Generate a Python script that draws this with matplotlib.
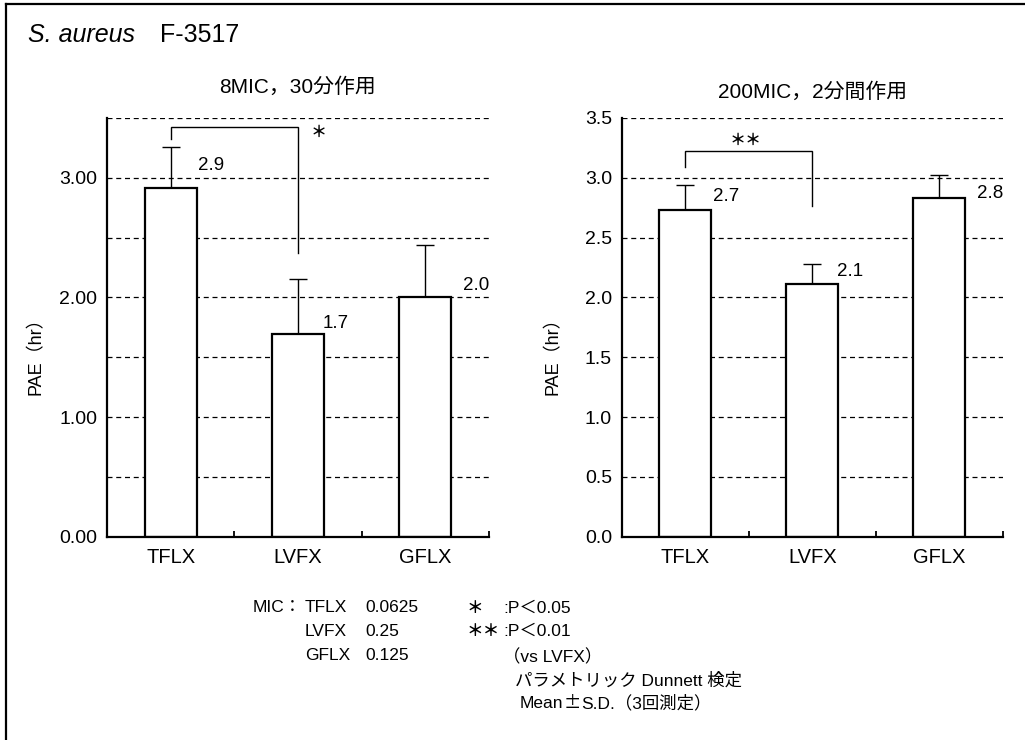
import matplotlib
matplotlib.use('Agg')
import matplotlib.pyplot as plt
from matplotlib.lines import Line2D

FONT = ['Liberation Sans', 'Noto Sans CJK JP', 'DejaVu Sans']
CJK = ['Noto Sans CJK JP', 'DejaVu Sans']
plt.rcParams['font.family'] = FONT

# ---------------- data ----------------
drugs = ['TFLX', 'LVFX', 'GFLX']

pae_8mic = [2.91, 1.69, 2.00]
sd_8mic = [0.35, 0.46, 0.44]
labels_8mic = ['2.9', '1.7', '2.0']

pae_200mic = [2.73, 2.11, 2.83]
sd_200mic = [0.21, 0.17, 0.19]
labels_200mic = ['2.7', '2.1', '2.8']

yticks_left = [0.0, 1.0, 2.0, 3.0]
ytick_labels_left = ['0.00', '1.00', '2.00', '3.00']
yticks_right = [0.0, 0.5, 1.0, 1.5, 2.0, 2.5, 3.0, 3.5]
ytick_labels_right = ['0.0', '0.5', '1.0', '1.5', '2.0', '2.5', '3.0', '3.5']
grid_levels = [0.5, 1.0, 1.5, 2.0, 2.5, 3.0, 3.5]

title_main_italic = 'S. aureus'
title_main_strain = 'F-3517'
title_left = '8MIC，30分作用'
title_right = '200MIC，2分間作用'
ylabel = 'PAE（hr）'

sig_left = '＊'
sig_right = '＊＊'

mic_drugs = ['TFLX', 'LVFX', 'GFLX']
mic_values = ['0.0625', '0.25', '0.125']

# ---------------- layout / style (not data) ----------------
W, H = 1025, 740
BAR_W = 0.41
lab_off_left = [(0.215, 0.19), (0.194, 0.09), (0.294, 0.10)]
lab_off_right = [(0.221, 0.11), (0.193, 0.11), (0.295, 0.04)]

fig = plt.figure(figsize=(W / 100, H / 100), dpi=100)


def fx(px):
    return px / W


def fy(py):
    return 1 - py / H


def make_panel(rect, vals, sds, labs, offs, yt, ytl, title, title_y, bracket, star, star_xy):
    ax = fig.add_axes(rect)
    x = list(range(len(drugs)))
    for g in grid_levels:
        ax.axhline(g, color='black', lw=0.9, ls=(0, (4, 3)), zorder=0)
    ax.errorbar(x, vals, yerr=[[0] * len(sds), sds], fmt='none', ecolor='black',
                elinewidth=1.0, capsize=6.4, capthick=1.0, zorder=1)
    ax.bar(x, vals, width=BAR_W, color='white', edgecolor='black', linewidth=1.6, zorder=2)
    for xi, v, lab, (dx, dy) in zip(x, vals, labs, offs):
        ax.text(xi + dx, v + dy, lab, ha='left', va='center', fontsize=13.5)
    bx, by = bracket
    ax.plot(bx, by, color='black', lw=1.0, zorder=3, solid_joinstyle='miter')
    ax.text(star_xy[0], star_xy[1], star, ha='center', va='center', fontsize=11.5,
            family=CJK, fontweight='bold')

    ax.set_xlim(-0.5, 2.5)
    ax.set_ylim(0, 3.5)
    ax.set_xticks(x)
    ax.set_xticklabels(drugs, fontsize=14.5)
    ax.set_xticks([0.5, 1.5, 2.5], minor=True)
    ax.tick_params(axis='x', which='major', length=0, pad=8)
    ax.tick_params(axis='x', which='minor', direction='in', length=4.5, width=1.3)
    ax.set_yticks(yt)
    ax.set_yticklabels(ytl, fontsize=14)
    ax.tick_params(axis='y', length=0, pad=7)
    for s in ['top', 'right']:
        ax.spines[s].set_visible(False)
    for s in ['left', 'bottom']:
        ax.spines[s].set_linewidth(1.6)
    ax.patch.set_alpha(0)
    fig.text(fx((rect[0] + rect[2] / 2) * W), fy(title_y), title, ha='center', va='center', fontsize=15)
    return ax


ax_bottom = 1 - 536.7 / H
ax_h = (536.7 - 117.9) / H

make_panel([fx(107), ax_bottom, fx(489 - 107), ax_h], pae_8mic, sd_8mic, labels_8mic,
           lab_off_left, yticks_left, ytick_labels_left, title_left, 87.5,
           ([0, 0, 1, 1], [3.32, 3.425, 3.425, 2.37]), sig_left, (1.16, 3.38))
make_panel([fx(621.7), ax_bottom, fx(1002.7 - 621.7), ax_h], pae_200mic, sd_200mic, labels_200mic,
           lab_off_right, yticks_right, ytick_labels_right, title_right, 91.7,
           ([0, 0, 1, 1], [3.09, 3.22, 3.22, 2.76]), sig_right, (0.479, 3.32))

# y labels
fig.text(fx(36), fy(352), ylabel, rotation=90, ha='center', va='center', fontsize=13)
fig.text(fx(553.5), fy(352), ylabel, rotation=90, ha='center', va='center', fontsize=13)

# main title
fig.text(fx(28), fy(34.7), title_main_italic, style='italic', ha='left', va='center', fontsize=18)
fig.text(fx(160), fy(34.7), title_main_strain, ha='left', va='center', fontsize=18)

# frame (left and top edges)
fig.add_artist(Line2D([fx(6), fx(6)], [0, fy(4)], color='black', lw=1.6))
fig.add_artist(Line2D([fx(6), 1], [fy(4), fy(4)], color='black', lw=1.6))

# footnotes
rows = [608, 631, 655]
FS = 12.5
fig.text(fx(253), fy(rows[0]), 'MIC：', ha='left', va='center', fontsize=FS)
for r, d, v in zip(rows, mic_drugs, mic_values):
    fig.text(fx(305), fy(r), d, ha='left', va='center', fontsize=FS)
    fig.text(fx(365), fy(r), v, ha='left', va='center', fontsize=FS)

fig.text(fx(475), fy(rows[0]), '＊', ha='center', va='center', fontsize=12, family=CJK, fontweight='bold')
fig.text(fx(483.5), fy(rows[1]), '＊＊', ha='center', va='center', fontsize=12, family=CJK, fontweight='bold')
fig.text(fx(503), fy(rows[0]), ':P＜0.05', ha='left', va='center', fontsize=FS)
fig.text(fx(503), fy(rows[1]), ':P＜0.01', ha='left', va='center', fontsize=FS)
fig.text(fx(503), fy(657), '（vs LVFX）', ha='left', va='center', fontsize=FS)
fig.text(fx(515), fy(680), 'パラメトリック Dunnett 検定', ha='left', va='center', fontsize=FS)

# "Mean±S.D.（3回測定）" with a wide ± as in the original
fig.canvas.draw()
renderer = fig.canvas.get_renderer()
t1 = fig.text(fx(520), fy(703), 'Mean', ha='left', va='center', fontsize=FS)
x_px = t1.get_window_extent(renderer).x1
t2 = fig.text(x_px / W, fy(703), '±', ha='left', va='center', fontsize=FS, family=CJK)
x_px = t2.get_window_extent(renderer).x1
fig.text(x_px / W, fy(703), 'S.D.（3回測定）', ha='left', va='center', fontsize=FS)

fig.savefig('out.png', dpi=100)
